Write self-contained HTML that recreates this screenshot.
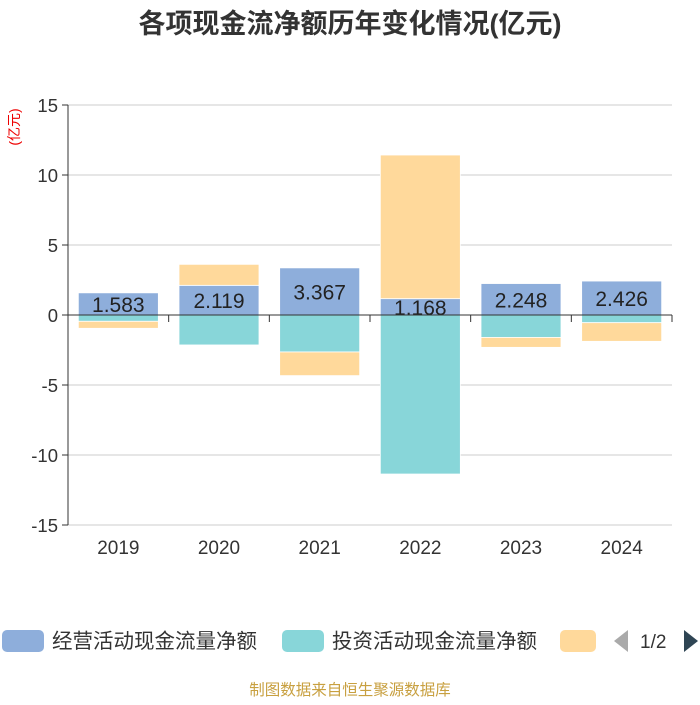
<!DOCTYPE html>
<html><head><meta charset="utf-8"><style>
body{margin:0;width:700px;height:700px;background:#fff;overflow:hidden;font-family:"Liberation Sans","Noto Sans CJK SC",sans-serif}
</style></head><body>
<svg width="700" height="700" xmlns="http://www.w3.org/2000/svg">
<text x="350" y="33" text-anchor="middle" font-size="27" font-weight="bold" fill="#333">各项现金流净额历年变化情况(亿元)</text>
<text transform="translate(19,127) rotate(-90)" text-anchor="middle" font-size="14" fill="#e00">(亿元)</text>
<g id="grid"></g><g id="bars"></g><g id="axes"></g>
<g font-size="20.5" fill="#333">
<g><rect x="2" y="630" width="42" height="22" rx="5" fill="#8eaedb"/><text x="52" y="648">经营活动现金流量净额</text></g>
<g><rect x="282" y="630" width="42" height="22" rx="5" fill="#88d6d9"/><text x="332" y="648">投资活动现金流量净额</text></g>
<g><rect x="560" y="630" width="36" height="22" rx="5" fill="#ffd99b"/></g>
<path d="M628 630 L614 641 L628 652Z" fill="#aaa"/>
<text x="640" y="648" font-size="19">1/2</text>
<path d="M684 630 L698 641 L684 652Z" fill="#2f4554"/>
</g>
<text x="350" y="695" text-anchor="middle" font-size="15.5" fill="#c8a040">制图数据来自恒生聚源数据库</text>
</svg>
<script>
const categories=["2019","2020","2021","2022","2023","2024"];
const operating=[1.583,2.119,3.367,1.168,2.248,2.426];
const investing=[-0.45,-2.14,-2.64,-11.36,-1.6,-0.55];
const financing=[-0.5,1.5,-1.69,10.26,-0.71,-1.33];
const yTicks=[15,10,5,0,-5,-10,-15];
const NS="http://www.w3.org/2000/svg";
const x0=68,x1=672,yTop=105,yBot=525,yMax=15,yMin=-15;
const y=v=>yTop+(yMax-v)/(yMax-yMin)*(yBot-yTop);
const bw=(x1-x0)/categories.length;
const cx=i=>x0+bw*(i+0.5);
function el(t,a,p){const e=document.createElementNS(NS,t);for(const k in a)e.setAttribute(k,a[k]);document.getElementById(p).appendChild(e);return e;}
yTicks.forEach(t=>{
 const l=el('line',{x1:x0,x2:x1,y1:y(t),y2:y(t),stroke:t===0?'none':'#ccc'},'grid');
 
 
 const tk=el('line',{x1:x0-6,x2:x0,y1:y(t),y2:y(t),stroke:'#333'},'axes');
 
 
 const tx=el('text',{x:x0-10,y:y(t)+7,'text-anchor':'end','font-size':18.5,fill:'#333'},'axes');
 tx.textContent=t;
 
 
});
const ya=el('line',{x1:x0,x2:x0,y1:yTop,y2:yBot,stroke:'#333'},'axes');


const xa=el('line',{x1:x0,x2:x1,y1:y(0),y2:y(0),stroke:'#333'},'axes');


for(let i=0;i<=categories.length;i++){
 const t=el('line',{x1:x0+bw*i,x2:x0+bw*i,y1:y(0),y2:y(0)+7,stroke:'#333'},'axes');
 
 
}
const series=[[operating,'#8eaedb','operating'],[investing,'#88d6d9','investing'],[financing,'#ffd99b','financing']];
categories.forEach((c,i)=>{
 let pos=0,neg=0;
 series.forEach(([arr,col,nm])=>{
  const v=arr[i];let a,b;
  if(v>=0){a=pos;b=pos+v;pos=b;}else{a=neg;b=neg+v;neg=b;}
  const top=y(Math.max(a,b)),h=Math.abs(y(a)-y(b));
  const r=el('rect',{x:cx(i)-40,y:top,width:80,height:h,fill:col,stroke:'#fff','stroke-width':0.8},'bars');
  
  
 });
 const lb=el('text',{x:cx(i),y:(y(0)+y(operating[i]))/2+8,'text-anchor':'middle','font-size':21,fill:'#222'},'bars');
 lb.textContent=operating[i].toFixed(3);
 
 
 const xl=el('text',{x:cx(i),y:554,'text-anchor':'middle','font-size':19,fill:'#333'},'axes');
 xl.textContent=c;
 
 
});
</script>
</body></html>
